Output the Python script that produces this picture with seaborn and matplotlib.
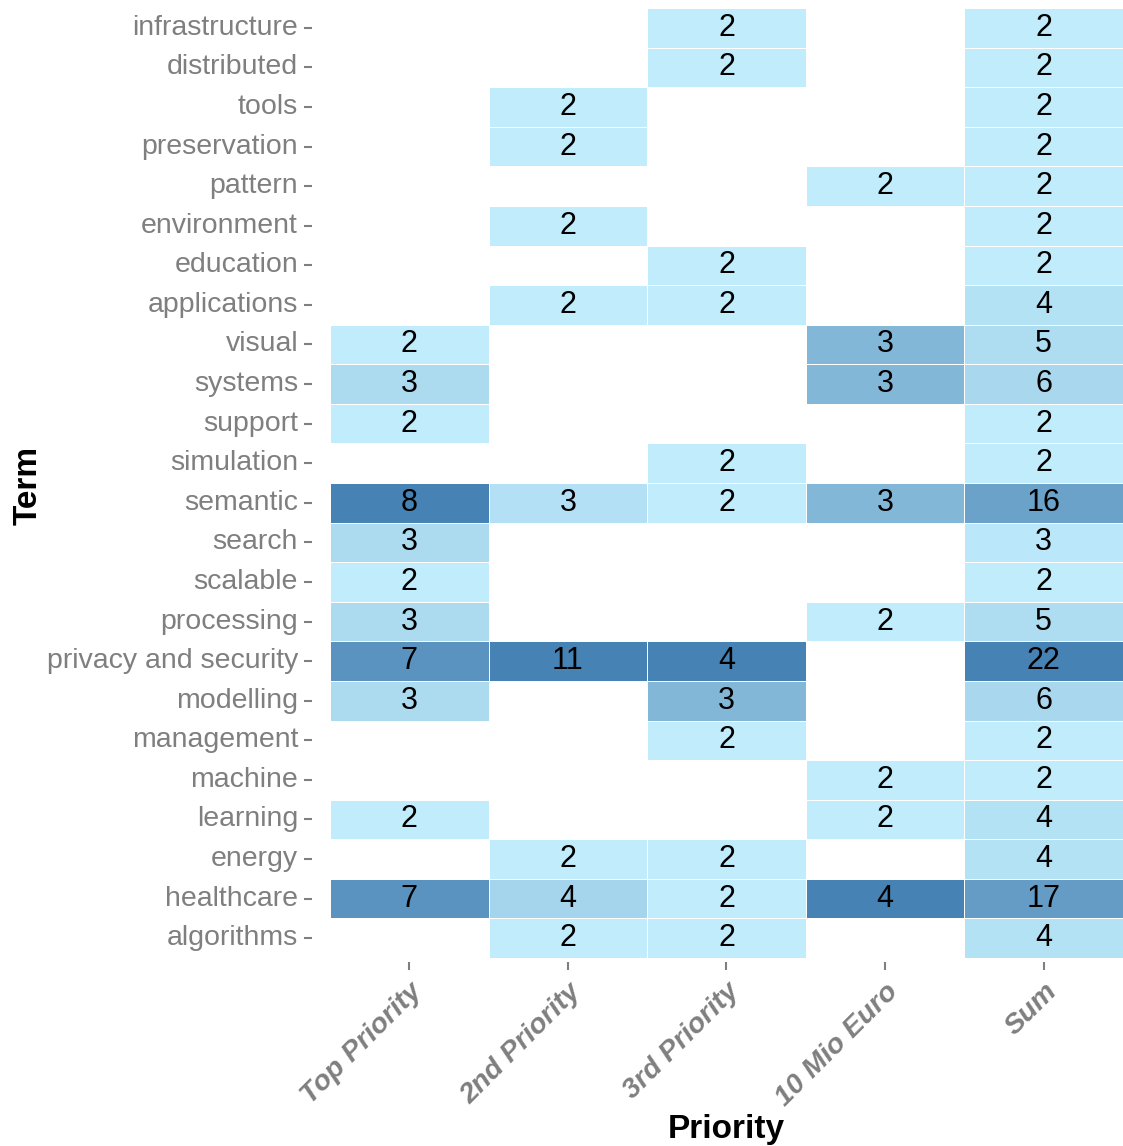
import numpy as np
import pandas as pd
import matplotlib
matplotlib.use("Agg")
import matplotlib.pyplot as plt
import seaborn as sns
from matplotlib.colors import LinearSegmentedColormap

# ===============================
# DATA (rows top to bottom)
# ===============================
terms = ["infrastructure", "distributed", "tools", "preservation", "pattern",
         "environment", "education", "applications", "visual", "systems",
         "support", "simulation", "semantic", "search", "scalable",
         "processing", "privacy and security", "modelling", "management",
         "machine", "learning", "energy", "healthcare", "algorithms"]
priorities = ["Top Priority", "2nd Priority", "3rd Priority", "10 Mio Euro", "Sum"]

n = np.nan
top_priority = [n, n, n, n, n, n, n, n, 2, 3, 2, n, 8, 3, 2, 3, 7, 3, n, n, 2, n, 7, n]
second_priority = [n, n, 2, 2, n, 2, n, 2, n, n, n, n, 3, n, n, n, 11, n, n, n, n, 2, 4, 2]
third_priority = [2, 2, n, n, n, n, 2, 2, n, n, n, 2, 2, n, n, n, 4, 3, 2, n, n, 2, 2, 2]
mio_euro = [n, n, n, n, 2, n, n, n, 3, 3, n, n, 3, n, n, 2, n, n, n, 2, 2, n, 4, n]
sums = [2, 2, 2, 2, 2, 2, 2, 4, 5, 6, 2, 2, 16, 3, 2, 5, 22, 6, 2, 2, 4, 4, 17, 4]

df = pd.DataFrame({
    "Top Priority": top_priority,
    "2nd Priority": second_priority,
    "3rd Priority": third_priority,
    "10 Mio Euro": mio_euro,
    "Sum": sums,
}, index=terms)[priorities]

# rescale each column on its own
scaled = (df - df.min()) / (df.max() - df.min())
labels = df.map(lambda v: "" if pd.isna(v) else f"{int(v)}").values

cmap = LinearSegmentedColormap.from_list("blues", ["#c0ecfc", "#4682b4"])

# ===============================
# PLOT
# ===============================
plt.rcParams["font.family"] = ["Liberation Sans", "DejaVu Sans"]
fig = plt.figure(figsize=(11.23, 11.46), dpi=100)
ax = fig.add_axes([0.2778, 0.1606, 0.7222, 0.8324])

sns.heatmap(scaled, ax=ax, cmap=cmap, vmin=0, vmax=1, cbar=False,
            annot=labels, fmt="", linewidths=0.5, linecolor="white",
            annot_kws={"color": "black", "fontsize": 22})
ax.set_xlim(-0.1135, 5)
ax.set_ylim(24.1, 0)

ax.set_xlabel("Priority", fontsize=24, fontweight="bold", color="black", labelpad=2)
ax.xaxis.label.set_x(0.511)
ax.set_ylabel("Term", fontsize=24, fontweight="bold", color="black", labelpad=2)
ax.tick_params(axis="both", colors="#7f7f7f", length=6, width=1.5)
ax.tick_params(axis="y", labelsize=20.5, pad=4)
ax.tick_params(axis="x", labelsize=20.5, pad=6)
plt.setp(ax.get_yticklabels(), rotation=0, color="#7f7f7f")
plt.setp(ax.get_xticklabels(), rotation=45, ha="right", rotation_mode="anchor",
         color="#7f7f7f", fontweight="bold", fontstyle="italic")
for s in ax.spines.values():
    s.set_visible(False)

fig.savefig("out.png", dpi=100)
